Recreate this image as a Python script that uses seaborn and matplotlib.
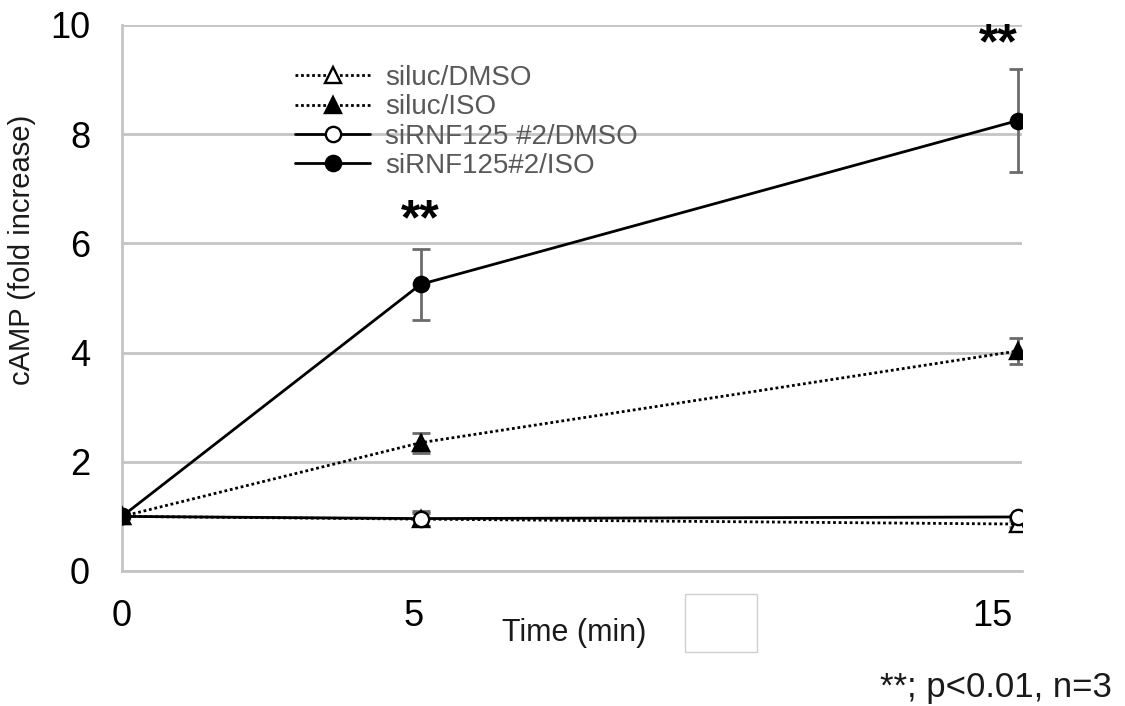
import numpy as np
import pandas as pd
import seaborn as sns
import matplotlib
matplotlib.use("Agg")
import matplotlib.pyplot as plt
from matplotlib.patches import Rectangle
from matplotlib.transforms import ScaledTranslation

# ---- data ----
times = [0, 5, 15]
series_names = ["siluc/DMSO", "siluc/ISO", "siRNF125 #2/DMSO", "siRNF125#2/ISO"]
siluc_dmso = [1.0, 0.95, 0.86]
siluc_dmso_err = [0.0, 0.12, 0.05]
siluc_iso = [1.0, 2.35, 4.03]
siluc_iso_err = [0.0, 0.18, 0.24]
sirnf_dmso = [1.0, 0.96, 0.99]
sirnf_dmso_err = [0.0, 0.13, 0.04]
sirnf_iso = [1.0, 5.25, 8.25]
sirnf_iso_err = [0.0, 0.65, 0.95]
sig_times = [5, 14.67]
sig_y = [6.4, 9.62]
sig_label = "**"
yticks = [0, 2, 4, 6, 8, 10]
xticks = [0, 5, 15]

sns.set_theme(style="white")
plt.rcParams['font.family'] = ['Liberation Sans', 'DejaVu Sans']

fig = plt.figure(figsize=(11.25, 7.06), dpi=100)
ax = fig.add_axes([122/1125, 1-571/706, (1022-122)/1125, (571-25)/706])

values = [siluc_dmso, siluc_iso, sirnf_dmso, sirnf_iso]
errs = [siluc_dmso_err, siluc_iso_err, sirnf_dmso_err, sirnf_iso_err]
styles = [
    dict(ls=(0, (1.0, 1.0)), marker="^", mfc="white"),
    dict(ls=(0, (1.0, 1.0)), marker="^", mfc="black"),
    dict(ls="-", marker="o", mfc="white"),
    dict(ls="-", marker="o", mfc="black"),
]

df = pd.DataFrame({
    "time": np.tile(times, len(series_names)),
    "value": np.concatenate(values),
    "err": np.concatenate(errs),
    "series": np.repeat(series_names, len(times)),
})

for i, (name, st) in enumerate(zip(series_names, styles)):
    sub = df[df["series"] == name]
    ax.errorbar(sub["time"], sub["value"], yerr=sub["err"], fmt="none",
                ecolor="#6b6b6b", elinewidth=2.0, capsize=6.5, capthick=2.0,
                zorder=2 + i * 0.1)
    sns.lineplot(data=sub, x="time", y="value", ax=ax, color="black",
                 linestyle=st["ls"], linewidth=2.0, marker=st["marker"],
                 markersize=11, markerfacecolor=st["mfc"],
                 markeredgecolor="black", markeredgewidth=1.7,
                 label=name, zorder=3 + i * 0.1, errorbar=None)

for t, yv in zip(sig_times, sig_y):
    ax.text(t, yv, sig_label, ha="center", va="center", fontsize=36,
            color="black", fontweight="bold")

ax.set_xlim(0, 15.07)
ax.set_ylim(0, 10)
ax.set_xticks(xticks)
ax.set_yticks(yticks)
ax.set_xticklabels([str(t) for t in xticks])
ax.set_yticklabels([str(t) for t in yticks])
ax.tick_params(axis="both", length=0, labelsize=26, colors="black")
ax.tick_params(axis="y", pad=23)
ax.tick_params(axis="x", pad=20)
# Excel-like label placement offsets (pixels)
for lab, dx in zip(ax.get_xticklabels(), [0, -7, -25]):
    lab.set_transform(lab.get_transform() + ScaledTranslation(dx / 100, 0, fig.dpi_scale_trans))

ax.yaxis.grid(True, color="#c4c4c4", linewidth=2.0)
ax.xaxis.grid(False)
ax.set_axisbelow(True)
for s in ["top", "right"]:
    ax.spines[s].set_visible(False)
for s in ["left", "bottom"]:
    ax.spines[s].set_color("#c4c4c4")
    ax.spines[s].set_linewidth(2.0)

ax.set_xlabel("")
ax.set_ylabel("")
fig.text(22/1125, 1-250/706, "cAMP (fold increase)", rotation=90,
         ha="center", va="center", fontsize=21, color="#1a1a1a")
fig.text(574/1125, 1-633/706, "Time (min)", ha="center", va="center",
         fontsize=22, color="#1a1a1a")
fig.text(1112/1125, 1-688/706, "**; p<0.01, n=3", ha="right", va="center",
         fontsize=25, color="#1a1a1a")

fig.patches.append(Rectangle((685/1125, 1-652/706), 72/1125, 58/706,
                             transform=fig.transFigure, fill=False,
                             edgecolor="#d0d0d0", linewidth=1.0))

leg = ax.legend(loc="upper left", bbox_to_anchor=(295/1125, 1-65/706),
                bbox_transform=fig.transFigure, frameon=False,
                fontsize=20, handlelength=2.7, handletextpad=0.55,
                labelspacing=0.12, borderpad=0, borderaxespad=0,
                labelcolor="#595959")

fig.savefig("out.png", dpi=100)
